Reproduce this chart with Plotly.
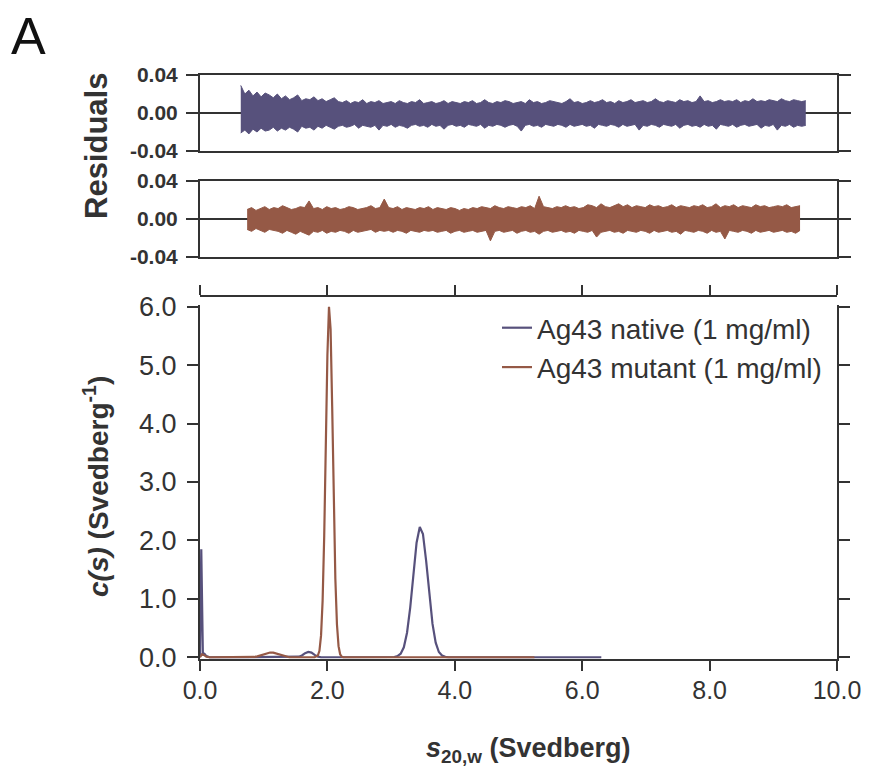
import numpy as np
import plotly.graph_objects as go

W, H = 869, 771
OFF = 8  # page body margin the figure sits inside
FONT = "Arial, 'Liberation Sans', sans-serif"
INK = "#333333"
C_NAT = "#57517c"
C_MUT = "#955946"

# c(s) distributions (s in Svedberg, c(s) in 1/Svedberg)
s_native = [0.00, 0.02, 0.045, 0.07, 0.10, 0.15, 0.50, 1.00, 1.50, 1.55, 1.60, 1.65,
            1.70, 1.75, 1.80, 1.85, 1.90, 2.50, 3.00, 3.05, 3.10, 3.15, 3.20, 3.25,
            3.30, 3.35, 3.40, 3.45, 3.50, 3.55, 3.60, 3.65, 3.70, 3.75, 3.80, 3.85,
            3.90, 4.50, 5.50, 6.30]
c_native = [0.00, 1.85, 0.05, 0.06, 0.02, 0.00, 0.00, 0.00, 0.00, 0.01, 0.03, 0.07,
            0.09, 0.08, 0.04, 0.01, 0.00, 0.00, 0.00, 0.004, 0.02, 0.06, 0.17, 0.42,
            0.85, 1.42, 1.96, 2.23, 2.11, 1.65, 1.07, 0.57, 0.25, 0.09, 0.03, 0.007,
            0.00, 0.00, 0.00, 0.00]

s_mutant = [0.00, 0.03, 0.06, 0.10, 0.15, 0.40, 0.80, 0.85, 0.90, 0.95, 1.00, 1.05,
            1.10, 1.15, 1.20, 1.25, 1.30, 1.35, 1.40, 1.60, 1.80, 1.85, 1.875, 1.90,
            1.925, 1.95, 1.975, 2.00, 2.025, 2.05, 2.075, 2.10, 2.125, 2.15, 2.175,
            2.20, 2.225, 2.25, 3.00, 4.00, 5.25]
c_mutant = [0.00, 0.05, 0.04, 0.01, 0.00, 0.00, 0.00, 0.005, 0.015, 0.03, 0.05, 0.07,
            0.08, 0.08, 0.065, 0.045, 0.025, 0.01, 0.00, 0.00, 0.00, 0.03, 0.11, 0.37,
            0.97, 2.08, 3.64, 5.17, 6.00, 5.62, 4.29, 2.67, 1.34, 0.56, 0.19,
            0.05, 0.01, 0.00, 0.00, 0.00, 0.00]

# residual envelopes (units of 1e-3), sampled evenly across the fitted range
res_nat_span = (0.64, 9.51)
res_nat_upper = [29, 20, 24, 18, 22, 17, 21, 19, 16, 20,
                 15, 18, 14, 16, 19, 13, 15, 14, 17, 13, 15, 12, 14, 16, 12,
                 11, 13, 10, 12, 11, 14, 10, 12, 11, 13, 10, 11, 12, 10, 13, 11, 10, 12, 11, 14,
                 10, 11, 12, 10, 11, 13, 10, 12, 11, 10, 12, 11, 13, 10, 11, 14, 11, 10, 12, 11,
                 13, 12, 10, 11, 12, 10, 14, 11, 12, 10, 11, 13, 12, 11, 10, 12, 15, 11, 12, 10,
                 11, 13, 11, 12, 14, 11, 12, 10, 13, 11, 12, 14, 11, 12, 13, 11, 12, 15, 12, 11,
                 13, 12, 11, 14, 12, 13, 11, 12, 18, 12, 13, 11, 12, 14, 12, 13, 12, 14, 11, 13,
                 12, 15, 12, 13, 12, 14, 13, 12, 15, 13, 12, 14, 13, 12, 13]
res_nat_lower = [-21, -18, -22, -17, -20, -16, -19, -18, -15, -19,
                 -16, -18, -15, -17, -20, -14, -16, -15, -18, -14, -16, -13, -15, -17, -14,
                 -13, -15, -14, -12, -16, -13, -14, -15, -13, -18, -13, -14, -12, -15, -13,
                 -14, -16, -13, -12, -14, -13, -15, -12, -14, -13, -17, -13, -12, -14, -13,
                 -15, -12, -13, -14, -12, -16, -13, -14, -12, -13, -15, -13, -12, -14, -19,
                 -13, -12, -14, -13, -15, -12, -13, -14, -12, -13, -15, -12, -14, -13, -12,
                 -14, -13, -16, -12, -13, -14, -12, -13, -15, -12, -14, -13, -12, -18, -13,
                 -14, -12, -13, -15, -12, -13, -14, -12, -16, -13, -12, -14, -13, -15, -12,
                 -14, -13, -17, -12, -13, -14, -12, -15, -13, -12, -14, -13, -12, -16, -13,
                 -14, -12, -18, -13, -14, -12, -15, -13, -14, -13]

res_mut_span = (0.74, 9.42)
res_mut_upper = [10, 12, 9, 11, 13, 10, 12, 11, 14, 12, 10, 11, 13, 12, 19, 11, 12, 10, 13, 11,
                 12, 10, 11, 13, 12, 10, 11, 12, 14, 11, 12, 21, 12, 11, 13, 10, 12, 11, 10, 12,
                 11, 13, 10, 12, 11, 10, 12, 11, 9, 11, 10, 12, 11, 13, 12, 11, 14, 12, 11, 13,
                 12, 11, 13, 12, 14, 11, 24, 13, 12, 11, 13, 12, 14, 12, 13, 11, 12, 15, 14, 12,
                 16, 13, 12, 14, 16, 13, 15, 12, 14, 13, 12, 15, 13, 14, 12, 13, 15, 12, 14, 13,
                 12, 14, 13, 15, 12, 13, 16, 12, 14, 13, 15, 12, 14, 13, 12, 15, 13, 14, 12, 13,
                 14, 13, 15, 12, 13, 14]
res_mut_lower = [-11, -13, -10, -12, -14, -11, -12, -13, -15, -12, -14, -16, -13, -15, -17,
                 -13, -14, -12, -15, -13, -14, -12, -13, -15, -12, -14, -13, -12, -11, -14,
                 -12, -13, -12, -14, -12, -13, -15, -12, -13, -14, -12, -13, -12, -14, -13,
                 -12, -15, -13, -12, -14, -13, -12, -14, -13, -12, -23, -13, -12, -14, -13,
                 -12, -15, -13, -12, -14, -13, -16, -13, -12, -14, -13, -12, -14, -13, -15,
                 -12, -13, -14, -12, -19, -14, -13, -12, -14, -13, -15, -12, -13, -14, -12,
                 -13, -15, -12, -14, -13, -12, -14, -13, -16, -12, -13, -14, -12, -13, -15,
                 -12, -14, -13, -21, -12, -13, -14, -12, -13, -15, -12, -14, -13, -12, -14,
                 -13, -12, -14, -13, -15, -12]

x_ticks = [0, 2, 4, 6, 8, 10]
x_ticklabels = ["0.0", "2.0", "4.0", "6.0", "8.0", "10.0"]
cs_ticks = [0, 1, 2, 3, 4, 5, 6]
cs_ticklabels = ["0.0", "1.0", "2.0", "3.0", "4.0", "5.0", "6.0"]
res_ticks = [-0.04, 0.0, 0.04]
res_ticklabels = ["-0.04", "0.00", "0.04"]


def px_x(p):
    return (p - OFF) / W


def px_y(p):
    return 1 - (p - OFF) / H


fig = go.Figure()

# residual bands, filled between lower and upper envelope
for (span, lo, hi, col, xa, ya) in [(res_nat_span, res_nat_lower, res_nat_upper, C_NAT, "x", "y"),
                                    (res_mut_span, res_mut_lower, res_mut_upper, C_MUT, "x2", "y2")]:
    xl = np.linspace(span[0], span[1], len(lo))
    xh = np.linspace(span[0], span[1], len(hi))
    fig.add_trace(go.Scatter(x=xl, y=np.array(lo) / 1000, mode="lines",
                             line=dict(color=col, width=1), showlegend=False,
                             hoverinfo="skip", xaxis=xa, yaxis=ya))
    fig.add_trace(go.Scatter(x=xh, y=np.array(hi) / 1000, mode="lines", fill="tonexty",
                             fillcolor=col, line=dict(color=col, width=1),
                             showlegend=False, hoverinfo="skip", xaxis=xa, yaxis=ya))

# c(s) curves
fig.add_trace(go.Scatter(x=s_native, y=c_native, mode="lines", name="Ag43 native (1 mg/ml)",
                         line=dict(color=C_NAT, width=2.2), xaxis="x3", yaxis="y3"))
fig.add_trace(go.Scatter(x=s_mutant, y=c_mutant, mode="lines", name="Ag43 mutant (1 mg/ml)",
                         line=dict(color=C_MUT, width=2.2), xaxis="x3", yaxis="y3"))
# carrier for the detached top axis
fig.add_trace(go.Scatter(x=[], y=[], xaxis="x4", yaxis="y3", showlegend=False))

xdom = [px_x(200), px_x(837)]
axline = dict(showline=True, linecolor=INK, linewidth=2, ticks="outside",
              tickcolor=INK, tickwidth=2, showgrid=False, zeroline=False)

res_x = dict(domain=xdom, range=[0, 10], showline=True, linecolor=INK, linewidth=2,
             mirror=True, ticks="", showticklabels=False, showgrid=False, zeroline=False)
res_y = dict(range=[-0.04, 0.04], tickvals=res_ticks,
             ticktext=["<b>%s</b>" % t for t in res_ticklabels],
             showline=True, linecolor=INK, linewidth=2, mirror="ticks",
             ticks="outside", ticklen=12, tickwidth=2, tickcolor=INK,
             tickfont=dict(size=21, color=INK, family=FONT), ticklabelstandoff=4,
             showgrid=False, zeroline=True, zerolinecolor=INK, zerolinewidth=2)

fig.update_layout(
    width=W, height=H, template="none",
    paper_bgcolor="white", plot_bgcolor="white",
    margin=dict(l=0, r=0, t=0, b=0),
    font=dict(family=FONT, color=INK),
    xaxis=dict(res_x, anchor="y"),
    yaxis=dict(res_y, domain=[px_y(151), px_y(75)], anchor="x"),
    xaxis2=dict(res_x, anchor="y2"),
    yaxis2=dict(res_y, domain=[px_y(257), px_y(181)], anchor="x2"),
    xaxis3=dict(axline, domain=xdom, range=[0, 10], anchor="y3", ticklen=10,
                tickvals=x_ticks, ticktext=x_ticklabels, layer="below traces",
                tickfont=dict(size=25, color=INK), ticklabelstandoff=-2),
    yaxis3=dict(axline, domain=[px_y(659), px_y(305)], range=[-0.03, 6.03], anchor="x3",
                mirror="ticks", ticklen=11, tickvals=cs_ticks, ticktext=cs_ticklabels,
                layer="below traces", tickfont=dict(size=27, color=INK),
                ticklabelstandoff=5),
    xaxis4=dict(axline, domain=xdom, range=[0, 10], anchor="free", position=px_y(296),
                overlaying="x3", side="top", ticklen=10, tickvals=x_ticks,
                showticklabels=False),
    legend=dict(x=px_x(497), y=px_y(303), xanchor="left", yanchor="top",
                traceorder="normal", bgcolor="rgba(0,0,0,0)",
                font=dict(size=28, color=INK), itemwidth=30, tracegroupgap=0),
    showlegend=True,
)

fig.add_annotation(text="<b>Residuals</b>", x=px_x(96), y=px_y(146), xref="paper",
                   yref="paper", xanchor="center", yanchor="middle", textangle=-90,
                   showarrow=False, font=dict(size=31, color=INK))
fig.add_annotation(text="<b><i>c(s)</i> (Svedberg<sup>-1</sup>)</b>", x=px_x(96),
                   y=px_y(487), xref="paper", yref="paper", xanchor="center",
                   yanchor="middle", textangle=-90, showarrow=False,
                   font=dict(size=28, color=INK))
fig.add_annotation(text="<b><i>s</i><sub>20,w</sub> (Svedberg)</b>", x=px_x(528),
                   y=px_y(750), xref="paper", yref="paper", xanchor="center",
                   yanchor="middle", showarrow=False, font=dict(size=27, color=INK))
fig.add_annotation(text="A", x=px_x(28), y=px_y(36), xref="paper", yref="paper",
                   xanchor="center", yanchor="middle", showarrow=False,
                   font=dict(size=52, color="#111111"))

fig.write_html("out.html")
